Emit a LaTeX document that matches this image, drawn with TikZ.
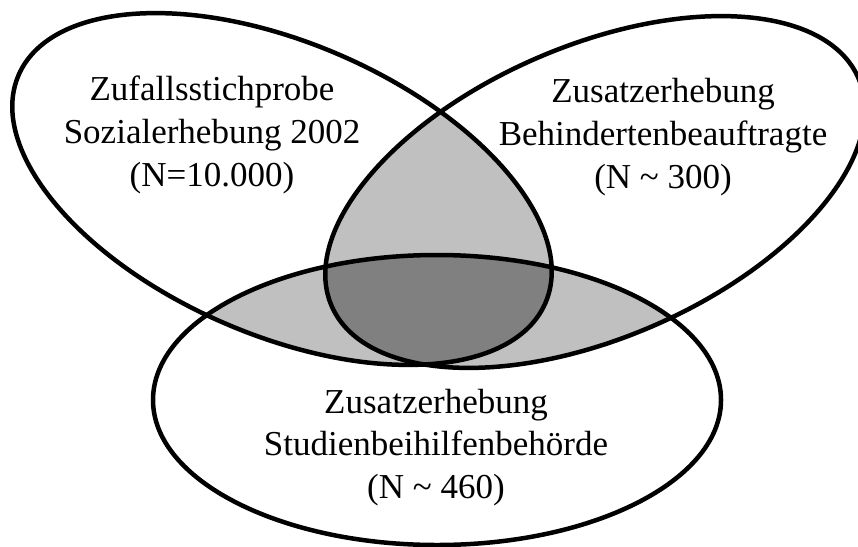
\documentclass[tikz,border=0pt]{standalone}
\usepackage{fontspec}
\setmainfont{Liberation Serif}
\definecolor{lightg}{RGB}{192,192,192}
\definecolor{darkg}{RGB}{128,128,128}
\begin{document}
\begin{tikzpicture}[x=1pt,y=-1pt,
  lbl/.style={anchor=base, inner sep=0pt, font=\fontsize{35}{42}\selectfont},
  outline/.style={line width=4.5pt},
  ellA/.style={rotate around={-23.4:(282,189)}},
  ellB/.style={rotate around={23.4:(595,192)}}]
\clip (0,0) rectangle (858,546);
\fill[white] (0,0) rectangle (858,546);
% pairwise intersections
\begin{scope}
  \clip[ellA] (282,189) ellipse [x radius=287pt, y radius=146pt];
  \fill[lightg, ellB] (595,192) ellipse [x radius=287pt, y radius=146pt];
  \fill[lightg] (437,400) ellipse [x radius=284pt, y radius=145pt];
\end{scope}
\begin{scope}
  \clip[ellB] (595,192) ellipse [x radius=287pt, y radius=146pt];
  \fill[lightg] (437,400) ellipse [x radius=284pt, y radius=145pt];
\end{scope}
% triple intersection
\begin{scope}
  \clip[ellA] (282,189) ellipse [x radius=287pt, y radius=146pt];
  \clip[ellB] (595,192) ellipse [x radius=287pt, y radius=146pt];
  \fill[darkg] (437,400) ellipse [x radius=284pt, y radius=145pt];
\end{scope}
% outlines
\draw[outline, ellA] (282,189) ellipse [x radius=287pt, y radius=146pt];
\draw[outline, ellB] (595,192) ellipse [x radius=287pt, y radius=146pt];
\draw[outline] (437,400) ellipse [x radius=284pt, y radius=145pt];
% labels
\node[lbl] (a1) at (212,100) {Zufallsstichprobe};
\node[lbl] (a2) at (212,143) {Sozialerhebung 2002};
\node[lbl] (a3) at (212,186) {(N=10.000)};
\node[lbl] (b1) at (663,102) {Zusatzerhebung};
\node[lbl] (b2) at (663,145) {Behindertenbeauftragte};
\node[lbl] (b3) at (663,188) {(N \textasciitilde\ 300)};
\node[lbl] (c1) at (436,413) {Zusatzerhebung};
\node[lbl] (c2) at (436,455) {Studienbeihilfenbehörde};
\node[lbl] (c3) at (436,498) {(N \textasciitilde\ 460)};
\end{tikzpicture}
\end{document}
